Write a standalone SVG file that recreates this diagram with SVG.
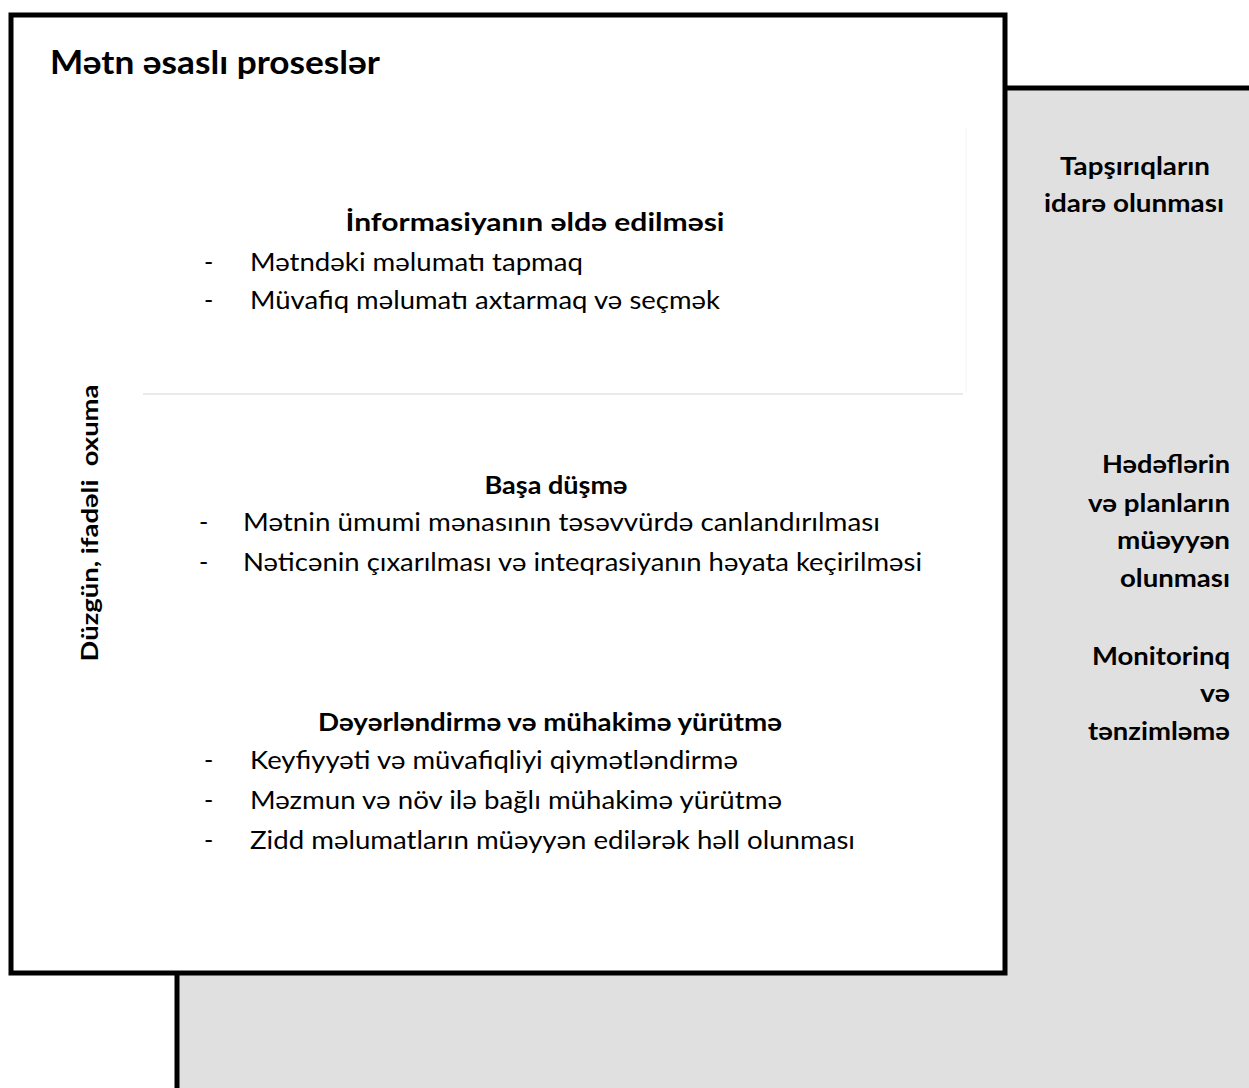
<svg xmlns="http://www.w3.org/2000/svg" width="1249" height="1088" viewBox="0 0 1249 1088">
<style>
text{font-family:Lato,"Open Sans","DejaVu Sans",sans-serif;fill:#000}
.t{font-size:32px;font-weight:bold}
.h{font-size:25px;font-weight:bold}
.r{font-size:25px}
.s{font-size:24px;font-weight:bold}
.v{font-size:23px;font-weight:bold}
.frame{stroke:#000;stroke-width:5}
</style>
<g id="panel-metacognition">
<rect class="frame" x="177" y="88" width="1090" height="1020" fill="#e0e0e0"/>
<text class="s" x="1135" y="175" text-anchor="middle" textLength="150" lengthAdjust="spacingAndGlyphs">Tapşırıqların</text>
<text class="s" x="1134" y="212" text-anchor="middle" textLength="180" lengthAdjust="spacingAndGlyphs">idarə olunması</text>
<text class="s" x="1230" y="473" text-anchor="end" textLength="128" lengthAdjust="spacingAndGlyphs">Hədəflərin</text>
<text class="s" x="1230" y="512" text-anchor="end" textLength="142" lengthAdjust="spacingAndGlyphs">və planların</text>
<text class="s" x="1230" y="549" text-anchor="end" textLength="113" lengthAdjust="spacingAndGlyphs">müəyyən</text>
<text class="s" x="1230" y="587" text-anchor="end" textLength="110" lengthAdjust="spacingAndGlyphs">olunması</text>
<text class="s" x="1230" y="665" text-anchor="end" textLength="138" lengthAdjust="spacingAndGlyphs">Monitorinq</text>
<text class="s" x="1230" y="702" text-anchor="end" textLength="30" lengthAdjust="spacingAndGlyphs">və</text>
<text class="s" x="1230" y="740" text-anchor="end" textLength="142" lengthAdjust="spacingAndGlyphs">tənzimləmə</text>
</g>
<g id="box-text-processes">
<rect class="frame" x="11" y="15" width="994" height="958" fill="#fff"/>
<text class="t" x="50" y="74" textLength="330" lengthAdjust="spacingAndGlyphs">Mətn əsaslı proseslər</text>
<line x1="143" y1="394" x2="963" y2="394" stroke="#d6d6d6" stroke-width="1.2"/>
<line x1="966" y1="128" x2="966" y2="392" stroke="#f4f4f4" stroke-width="1"/>
<text class="v" transform="translate(98,523) rotate(-90)" text-anchor="middle" style="white-space:pre" textLength="277" lengthAdjust="spacingAndGlyphs">Düzgün, ifadəli  oxuma</text>
</g>
<g id="sec-retrieval">
<text class="h" x="535" y="231" text-anchor="middle" textLength="379" lengthAdjust="spacingAndGlyphs">İnformasiyanın əldə edilməsi</text>
<text class="r" x="204" y="271">-</text>
<text class="r" x="250" y="271" textLength="333" lengthAdjust="spacingAndGlyphs">Mətndəki məlumatı tapmaq</text>
<text class="r" x="204" y="309">-</text>
<text class="r" x="250" y="309" textLength="470" lengthAdjust="spacingAndGlyphs">Müvafiq məlumatı axtarmaq və seçmək</text>
</g>
<g id="sec-understanding">
<text class="h" x="556" y="494" text-anchor="middle" textLength="143" lengthAdjust="spacingAndGlyphs">Başa düşmə</text>
<text class="r" x="199" y="531">-</text>
<text class="r" x="243" y="531" textLength="637" lengthAdjust="spacingAndGlyphs">Mətnin ümumi mənasının təsəvvürdə canlandırılması</text>
<text class="r" x="199" y="571">-</text>
<text class="r" x="243" y="571" textLength="679" lengthAdjust="spacingAndGlyphs">Nəticənin çıxarılması və inteqrasiyanın həyata keçirilməsi</text>
</g>
<g id="sec-evaluation">
<text class="h" x="550" y="731" text-anchor="middle" textLength="464" lengthAdjust="spacingAndGlyphs">Dəyərləndirmə və mühakimə yürütmə</text>
<text class="r" x="204" y="769">-</text>
<text class="r" x="250" y="769" textLength="488" lengthAdjust="spacingAndGlyphs">Keyfiyyəti və müvafiqliyi qiymətləndirmə</text>
<text class="r" x="204" y="809">-</text>
<text class="r" x="250" y="809" textLength="532" lengthAdjust="spacingAndGlyphs">Məzmun və növ ilə bağlı mühakimə yürütmə</text>
<text class="r" x="204" y="849">-</text>
<text class="r" x="250" y="849" textLength="605" lengthAdjust="spacingAndGlyphs">Zidd məlumatların müəyyən edilərək həll olunması</text>
</g>
<g id="connectors"></g>
</svg>
